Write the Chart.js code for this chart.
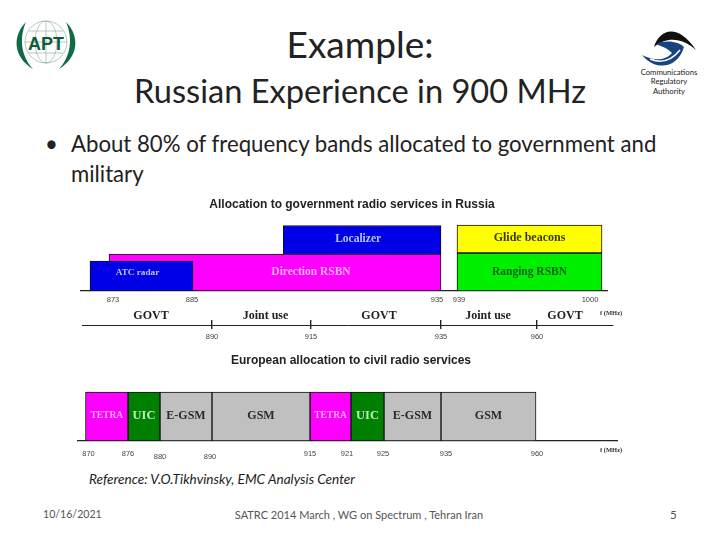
<!DOCTYPE html>
<html>
<head>
<meta charset="utf-8">
<title>Russian Experience in 900 MHz</title>
<script src="https://cdn.jsdelivr.net/npm/chart.js@4/dist/chart.umd.min.js"></script>
<style>
  html, body { margin: 0; padding: 0; background: #fff; }
  #slide { position: relative; width: 720px; height: 540px; overflow: hidden; font-family: Lato, "Open Sans", sans-serif; color: #222; }
  #slide canvas { position: absolute; left: 0; filter: blur(0.5px); }
  #slide svg { position: absolute; left: 0; top: 0; }
  .t { position: absolute; white-space: nowrap; line-height: 1; }
  .c { transform: translateX(-50%); }
  .unit { font: bold 6.5px "Liberation Serif", serif; color: #333; }
  .foot { color: #555; top: 509px; }
</style>
</head>
<body>
<div id="slide">
  <svg width="720" height="110" viewBox="0 0 720 110">
    <g fill="none" stroke="#8aa596" stroke-width="0.6">
      <circle cx="46" cy="42" r="21"/>
      <ellipse cx="46" cy="42" rx="11" ry="21"/>
      <path d="M25 42H67M29 31H63M29 53H63M46 21V63"/>
    </g>
    <path d="M26 22C12 36 13 57 33 69C21 56 19 38 26 22ZM66 22C80 36 79 57 59 69C71 56 73 38 66 22Z" fill="#0f6b45"/>
    <text x="46" y="50" text-anchor="middle" font-family="Liberation Sans" font-weight="bold" font-size="18" fill="#0f5a3c">APT</text>
    <path d="M654 47C658 32 676 20 696 50C684 39 668 35 654 47Z" fill="#111"/>
    <path d="M642 55C652 60 664 62 672 53C666 47 660 46 656 44C666 39 680 42 684 47C678 68 656 72 642 55Z" fill="#17447f"/>
    <path d="M650 59C662 64 672 60 680 50" fill="none" stroke="#fff" stroke-width="1.5"/>
  </svg>

  <div class="t c" style="left:360px;top:25px;font-size:37px;">Example:</div>
  <div class="t c" style="left:360px;top:75px;font-size:32.6px;">Russian Experience in 900 MHz</div>
  <div class="t c" style="left:669px;top:68.5px;font-size:7.7px;">Communications</div>
  <div class="t c" style="left:669px;top:78px;font-size:7.7px;">Regulatory</div>
  <div class="t c" style="left:669px;top:87.5px;font-size:7.7px;">Authority</div>

  <div class="t" style="left:45px;top:133px;font-size:22.2px;">•</div>
  <div class="t" style="left:71px;top:133px;font-size:22.2px;">About 80% of frequency bands allocated to government and</div>
  <div class="t" style="left:71px;top:163px;font-size:22.2px;">military</div>

  <canvas id="russiaChart" style="top:195px"></canvas>
  <canvas id="usageChart" style="top:310px"></canvas>
  <canvas id="europeChart" style="top:350px"></canvas>
  <div class="t unit" style="left:600px;top:309px;">f (MHz)</div>
  <div class="t unit" style="left:600px;top:446px;">f (MHz)</div>

  <div class="t" style="left:89px;top:473px;font-size:13.6px;font-style:italic;">Reference: V.O.Tikhvinsky, EMC Analysis Center</div>
  <div class="t foot" style="left:43px;font-size:10.6px;">10/16/2021</div>
  <div class="t foot c" style="left:359px;font-size:11px;">SATRC 2014 March , WG on Spectrum , Tehran Iran</div>
  <div class="t foot" style="left:670px;font-size:11.5px;">5</div>
</div>

<script>
// Band data, frequencies in MHz
const russiaTitle = 'Allocation to government radio services in Russia';
const russiaBands = ['ATC radar', 'Direction RSBN', 'Localizer', 'Glide beacons', 'Ranging RSBN'];
const russiaStart = [870, 873, 908, 939, 939];
const russiaEnd = [885, 935, 935, 1000, 1000];
const russiaTicks = [873, 885, 935, 939, 1000];

const usageBands = ['GOVT', 'Joint use', 'GOVT', 'Joint use', 'GOVT'];
const usageStart = [870, 890, 915, 935, 960];
const usageEnd = [890, 915, 935, 960, 1000];
const usageTicks = [890, 915, 935, 960];

const europeTitle = 'European allocation to civil radio services';
const europeBands = ['TETRA', 'UIC', 'E-GSM', 'GSM', 'TETRA', 'UIC', 'E-GSM', 'GSM'];
const europeStart = [870, 876, 880, 890, 915, 921, 925, 935];
const europeEnd = [876, 880, 890, 915, 921, 925, 935, 960];
const europeTicks = [870, 876, 880, 890, 915, 921, 925, 935, 960];

// The drawing's frequency axes are not to scale, so pixels are pinned per frequency
const russiaStops = [[870, 90], [873, 109], [885, 193], [890, 212], [915, 311], [935, 441], [939, 457], [960, 537], [1000, 602]];
const usageStops = [[870, 90], [890, 212], [915, 311], [935, 441], [960, 537], [1000, 613]];
const europeStops = [[870, 85.5], [876, 128], [880, 160], [890, 212], [915, 310], [921, 351], [925, 384], [935, 441], [960, 536]];

class SchematicScale extends Chart.LinearScale {
  static id = 'schematic';
  static defaults = Chart.LinearScale.defaults;

  getPixelForValue(value) {
    const stops = this.options.stops;
    let i = 0;
    while (i < stops.length - 2 && value > stops[i + 1][0]) i++;
    const [f0, p0] = stops[i], [f1, p1] = stops[i + 1];
    return p0 + (value - f0) * (p1 - p0) / (f1 - f0);
  }

  getValueForPixel(pixel) {
    const stops = this.options.stops;
    let i = 0;
    while (i < stops.length - 2 && pixel > stops[i + 1][1]) i++;
    const [f0, p0] = stops[i], [f1, p1] = stops[i + 1];
    return f0 + (pixel - p0) * (f1 - f0) / (p1 - p0);
  }

  _computeLabelItems(chartArea) {
    const items = super._computeLabelItems(chartArea);
    const nudge = this.options.labelNudge || {};
    items.forEach((item, i) => {
      const n = nudge[this.ticks[i].value];
      if (n) {
        item.options.translation[0] += n[0];
        item.options.translation[1] += n[1];
      }
    });
    return items;
  }
}
Chart.register(SchematicScale);

// Writes each band's name on its bar
const bandLabels = {
  id: 'bandLabels',
  afterDatasetsDraw(chart) {
    const ctx = chart.ctx;
    ctx.save();
    ctx.textAlign = 'center';
    ctx.textBaseline = 'middle';
    chart.data.datasets.forEach((ds, i) => {
      const p = chart.getDatasetMeta(i).data[0].getCenterPoint();
      ctx.font = ds.textFont;
      ctx.fillStyle = ds.textColor;
      ctx.fillText(ds.label, p.x + ds.textDx, p.y + ds.textDy);
    });
    ctx.restore();
  }
};

function serif(size) { return 'bold ' + size + 'px "Liberation Serif", serif'; }

// level = bar centre above the baseline, thick = bar height, dx/dy = label shift
const russiaLook = [
  { fill: '#0000e6', level: 15, thick: 30, text: '#b9c6f5', font: serif(9.2), dx: -4, dy: -3 },
  { fill: '#ff00ff', level: 18.5, thick: 37, text: '#ffb0ff', font: serif(11.5), dx: 36, dy: 0 },
  { fill: '#0000e6', level: 51, thick: 29, text: '#b9c6f5', font: serif(11.5), dx: -4, dy: -1 },
  { fill: '#ffff00', level: 52, thick: 28, text: '#3a3a10', font: serif(12), dx: 0, dy: -1 },
  { fill: '#00f000', level: 19, thick: 38, text: '#0d5f1a', font: serif(11.5), dx: 0, dy: 0 }
];
const usageLook = usageBands.map((b, i) => ({
  fill: 'rgba(0,0,0,0)', level: 2.5, thick: 5, text: '#222', font: serif(12), dx: [0, 4, 3, -1, -10][i], dy: -6.5
}));
const europeLook = europeBands.map(b => ({
  fill: { TETRA: '#ff00ff', UIC: '#008000', 'E-GSM': '#c0c0c0', GSM: '#c0c0c0' }[b],
  level: 24.5,
  thick: 49,
  text: { TETRA: '#ffb0ff', UIC: '#b8f5b8', 'E-GSM': '#2a2a2a', GSM: '#2a2a2a' }[b],
  font: serif({ TETRA: 9.5, UIC: 12.5, 'E-GSM': 12, GSM: 12 }[b]),
  dx: 0,
  dy: -1
}));

function makeSets(names, starts, ends, look, edge) {
  return names.map((name, i) => ({
    label: name,
    data: [{ x: [starts[i], ends[i]], y: look[i].level }],
    backgroundColor: look[i].fill,
    borderColor: edge,
    borderWidth: edge ? 1 : 0,
    borderSkipped: false,
    barThickness: look[i].thick,
    textColor: look[i].text,
    textFont: look[i].font,
    textDx: look[i].dx,
    textDy: look[i].dy
  }));
}

function spacer(position, width) {
  return {
    type: 'linear', display: true, position: position, min: 0, max: 1,
    ticks: { display: false }, grid: { display: false }, border: { display: false },
    afterFit: s => { s.width = width; }
  };
}

function makeChart(id, cfg) {
  const canvas = document.getElementById(id);
  canvas.style.width = cfg.width + 'px';
  canvas.style.height = cfg.height + 'px';
  canvas.width = cfg.width;
  canvas.height = cfg.height;
  return new Chart(canvas, {
    type: 'bar',
    data: { datasets: makeSets(cfg.names, cfg.starts, cfg.ends, cfg.look, cfg.edge) },
    plugins: [bandLabels],
    options: {
      indexAxis: 'y',
      responsive: false,
      animation: false,
      grouped: false,
      layout: { autoPadding: false, padding: { top: cfg.padTop || 0 } },
      plugins: {
        legend: { display: false },
        tooltip: { enabled: false },
        title: {
          display: !!cfg.title,
          text: cfg.title,
          color: '#222',
          font: { family: '"Liberation Sans", sans-serif', size: 12, weight: 'bold', lineHeight: 1.2 },
          padding: { top: cfg.titleTop, bottom: cfg.titleBottom }
        }
      },
      scales: {
        x: {
          type: 'schematic',
          min: cfg.stops[0][0],
          max: cfg.stops[cfg.stops.length - 1][0],
          stops: cfg.stops,
          labelNudge: cfg.nudge,
          offset: false,
          afterBuildTicks: s => { s.ticks = cfg.ticks.map(v => ({ value: v })); },
          afterFit: s => { s.height = cfg.axisHeight; },
          border: { display: true, color: '#222', width: cfg.axisWidth },
          grid: cfg.marks
            ? { display: true, offset: false, color: '#222', lineWidth: 1.4, drawTicks: true, tickLength: 4 }
            : { display: false, offset: false, drawTicks: false },
          ticks: {
            autoSkip: false, maxRotation: 0, minRotation: 0, padding: cfg.tickPad,
            color: '#444',
            font: { family: '"Liberation Sans", sans-serif', size: 7.5 },
            callback: v => String(v)
          }
        },
        y: { ...spacer('left', cfg.left), min: 0, max: cfg.levels, offset: false },
        yRight: spacer('right', cfg.width - cfg.right)
      }
    }
  });
}

makeChart('russiaChart', {
  width: 704, height: 115, left: 81, right: 607, levels: 69,
  title: russiaTitle, titleTop: 2.8, titleBottom: 9.8,
  names: russiaBands, starts: russiaStart, ends: russiaEnd, look: russiaLook, edge: '#111',
  stops: russiaStops, ticks: russiaTicks, axisHeight: 19, axisWidth: 1.3, tickPad: 4,
  nudge: { 873: [4, 0], 885: [-1, 0], 935: [-4, 0], 939: [2, 0], 1000: [-12, 0] }
});

makeChart('usageChart', {
  width: 720, height: 36, left: 82, right: 613, levels: 5, padTop: 10,
  names: usageBands, starts: usageStart, ends: usageEnd, look: usageLook, edge: null,
  stops: usageStops, ticks: usageTicks, axisHeight: 21, axisWidth: 1, tickPad: 3, marks: true
});

makeChart('europeChart', {
  width: 702, height: 115, left: 78, right: 617, levels: 56,
  title: europeTitle, titleTop: 3.8, titleBottom: 16.8,
  names: europeBands, starts: europeStart, ends: europeEnd, look: europeLook, edge: '#111',
  stops: europeStops, ticks: europeTicks, axisHeight: 24, axisWidth: 1.3, tickPad: 8,
  nudge: { 870: [3, 0], 880: [0, 3], 890: [-2, 3], 921: [-4, 0], 925: [-1, 0], 935: [5, 0], 960: [1, 0] }
});
</script>
</body>
</html>
